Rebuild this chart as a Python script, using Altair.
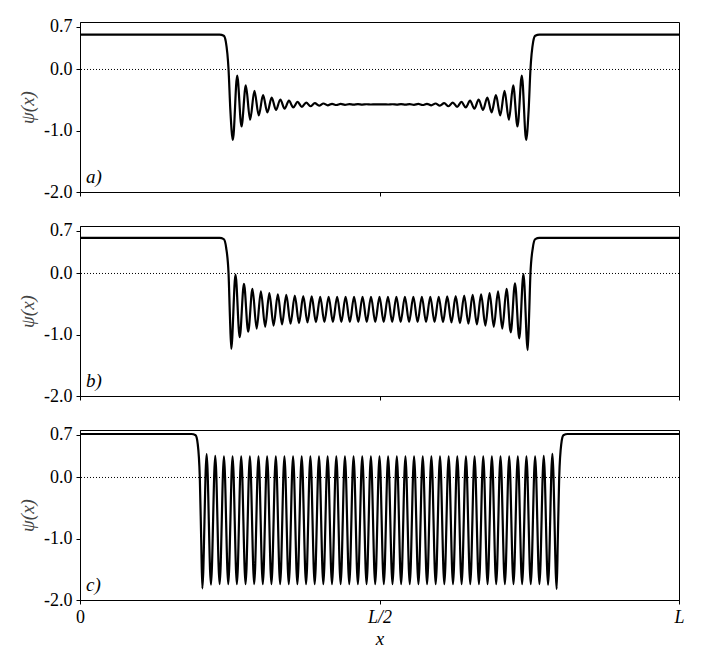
import altair as alt
import pandas as pd

# x is measured in thousandths of L (0 .. 1000)
tick_x = [0, 500, 1000]
tick_x_labels = ["0", "L/2", "L"]
tick_y = [-2.0, -1.0, 0.0, 0.7]
panel_labels = ["a)", "b)", "c)"]
zero_level = [0.0]

# ---------------- panel a ----------------
a_left_x = [0, 233, 240, 243.5, 248, 251]
a_left_y = [0.57, 0.57, 0.55, 0.45, 0.0, -0.66]
a_ext_x = [255.2, 262.4, 269.6, 276.8, 284.0, 291.2, 298.4, 305.6, 312.8, 320.0,
           327.2, 334.4, 341.6, 348.8, 356.0, 363.2, 370.4, 377.6, 384.8, 392.0,
           399.2, 406.4, 413.6, 420.8, 428.0, 435.2, 442.4, 449.6, 456.8, 464.0,
           471.2, 478.4, 485.6, 492.8, 500.0, 507.2, 514.4, 521.6, 528.8, 536.0,
           543.2, 550.4, 557.6, 564.8, 572.0, 579.2, 586.4, 593.6, 600.8, 608.0,
           615.2, 622.4, 629.6, 636.8, 644.0, 651.2, 658.4, 665.6, 672.8, 680.0,
           687.2, 694.4, 701.6, 708.8, 716.0, 723.2, 730.4, 737.6, 744.8]
a_ext_y = [-1.15, -0.10, -0.93, -0.26, -0.82, -0.35, -0.75, -0.42, -0.70, -0.46,
           -0.66, -0.49, -0.64, -0.51, -0.62, -0.53, -0.61, -0.54, -0.60, -0.55,
           -0.59, -0.555, -0.585, -0.56, -0.58, -0.563, -0.577, -0.565, -0.575, -0.567,
           -0.573, -0.568, -0.572, -0.569, -0.571,
           -0.569, -0.572, -0.568, -0.573, -0.567, -0.575, -0.565, -0.577, -0.563, -0.58,
           -0.56, -0.585, -0.555, -0.59, -0.55, -0.60, -0.54, -0.61, -0.53, -0.62,
           -0.51, -0.64, -0.49, -0.66, -0.46, -0.70, -0.42, -0.75, -0.35, -0.82,
           -0.26, -0.93, -0.10, -1.15]
a_right_x = [749, 752, 756.5, 760, 767, 1000]
a_right_y = [-0.66, 0.0, 0.45, 0.55, 0.57, 0.57]

# ---------------- panel b ----------------
b_left_x = [0, 233, 240, 244, 248, 250.3]
b_left_y = [0.58, 0.58, 0.56, 0.42, 0.0, -0.7]
b_ext_x = [252.5, 259.6, 266.6, 273.7, 280.8, 287.9, 294.9, 302.0, 309.1, 316.1,
           323.2, 330.3, 337.3, 344.4, 351.5, 358.6, 365.6, 372.7, 379.8, 386.8,
           393.9, 401.0, 408.0, 415.1, 422.2, 429.3, 436.3, 443.4, 450.5, 457.5,
           464.6, 471.7, 478.7, 485.8, 492.9, 500.0, 507.0, 514.1, 521.2, 528.2,
           535.3, 542.4, 549.4, 556.5, 563.6, 570.7, 577.7, 584.8, 591.9, 598.9,
           606.0, 613.1, 620.1, 627.2, 634.3, 641.4, 648.4, 655.5, 662.6, 669.6,
           676.7, 683.8, 690.8, 697.9, 705.0, 712.1, 719.1, 726.2, 733.3, 740.3,
           747.4]
b_ext_y = [-1.23, -0.02, -1.04, -0.17, -0.95, -0.25, -0.90, -0.29, -0.87, -0.32,
           -0.85, -0.34, -0.83, -0.35, -0.82, -0.36, -0.81, -0.37, -0.80, -0.375,
           -0.795, -0.38, -0.79, -0.38, -0.79, -0.38, -0.79, -0.38, -0.79, -0.38,
           -0.79, -0.38, -0.79, -0.38, -0.79, -0.38,
           -0.79, -0.38, -0.79, -0.38, -0.79, -0.38, -0.79, -0.38, -0.79, -0.38,
           -0.79, -0.38, -0.79, -0.38, -0.795, -0.375, -0.80, -0.37, -0.81, -0.36,
           -0.82, -0.35, -0.83, -0.34, -0.85, -0.32, -0.87, -0.29, -0.90, -0.25,
           -0.96, -0.16, -1.06, -0.01, -1.25]
b_right_x = [749.7, 752, 756, 760, 767, 1000]
b_right_y = [-0.7, 0.0, 0.42, 0.56, 0.58, 0.58]

# ---------------- panel c ----------------
c_left_x = [0, 186, 193, 196.5, 200, 202.3]
c_left_y = [0.71, 0.71, 0.69, 0.55, 0.0, -1.0]
c_ext_x = [204.2, 211.4, 218.6, 225.8, 233.1, 240.3, 247.5, 254.7, 261.9, 269.1,
           276.4, 283.6, 290.8, 298.0, 305.2, 312.4, 319.6, 326.9, 334.1, 341.3,
           348.5, 355.7, 362.9, 370.1, 377.4, 384.6, 391.8, 399.0, 406.2, 413.4,
           420.7, 427.9, 435.1, 442.3, 449.5, 456.7, 463.9, 471.2, 478.4, 485.6,
           492.8, 500.0, 507.2, 514.4, 521.7, 528.9, 536.1, 543.3, 550.5, 557.7,
           565.0, 572.2, 579.4, 586.6, 593.8, 601.0, 608.2, 615.5, 622.7, 629.9,
           637.1, 644.3, 651.5, 658.7, 666.0, 673.2, 680.4, 687.6, 694.8, 702.0,
           709.3, 716.5, 723.7, 730.9, 738.1, 745.3, 752.5, 759.8, 767.0, 774.2,
           781.4, 788.6, 795.8]
c_ext_y = [-1.81, 0.38, -1.75, 0.355, -1.74, 0.345, -1.74, 0.345, -1.74, 0.345,
           -1.74, 0.345, -1.74, 0.345, -1.74, 0.345, -1.74, 0.345, -1.74, 0.345,
           -1.74, 0.345, -1.74, 0.345, -1.74, 0.345, -1.74, 0.345, -1.74, 0.345,
           -1.74, 0.345, -1.74, 0.345, -1.74, 0.345, -1.74, 0.345, -1.74, 0.345,
           -1.74, 0.345, -1.74, 0.345, -1.74, 0.345, -1.74, 0.345, -1.74, 0.345,
           -1.74, 0.345, -1.74, 0.345, -1.74, 0.345, -1.74, 0.345, -1.74, 0.345,
           -1.74, 0.345, -1.74, 0.345, -1.74, 0.345, -1.74, 0.345, -1.74, 0.345,
           -1.74, 0.345, -1.74, 0.345, -1.74, 0.345, -1.74, 0.345, -1.74, 0.355,
           -1.75, 0.385, -1.82]
c_right_x = [797.7, 800, 803.5, 807, 814, 1000]
c_right_y = [-1.0, 0.0, 0.55, 0.69, 0.71, 0.71]

panels = [
    (a_left_x + a_ext_x + a_right_x, a_left_y + a_ext_y + a_right_y),
    (b_left_x + b_ext_x + b_right_x, b_left_y + b_ext_y + b_right_y),
    (c_left_x + c_ext_x + c_right_x, c_left_y + c_ext_y + c_right_y),
]

FONT = "Liberation Serif, Times New Roman, serif"
x_label_expr = " : ".join(
    f"datum.value == {v} ? '{t}'" for v, t in zip(tick_x[:-1], tick_x_labels[:-1])
) + f" : '{tick_x_labels[-1]}'"
y_label_expr = "datum.value < 0 ? '-' + format(-datum.value, '.1f') : format(datum.value, '.1f')"

x_scale = alt.Scale(domain=[0, 1000], nice=False, zero=False)
y_scale = alt.Scale(domain=[-2.0, 0.775], nice=False, zero=False)


def make_panel(i, xs, ys):
    last = i == 2
    df = pd.DataFrame({"x": xs, "y": ys})
    x_axis = alt.Axis(
        values=tick_x,
        labels=last,
        labelFlush=False,
        labelExpr=x_label_expr,
        labelFontStyle={"condition": {"test": "datum.value == 0", "value": "normal"}, "value": "italic"},
        title="x" if last else None,
        titleFontStyle="italic",
        titleFontWeight="normal",
        titlePadding=3,
        labelPadding=4,
    )
    y_axis = alt.Axis(
        values=tick_y,
        labelExpr=y_label_expr,
        title="ψ(x)",
        titleFontStyle="italic",
        titleFontWeight="normal",
        titleColor="#444444",
        titlePadding=6,
        labelPadding=4,
    )
    line = alt.Chart(df).mark_line(
        interpolate="monotone", color="black", strokeWidth=2.2
    ).encode(
        x=alt.X("x:Q", scale=x_scale, axis=x_axis),
        y=alt.Y("y:Q", scale=y_scale, axis=y_axis),
    )
    zero = alt.Chart(pd.DataFrame({"z": zero_level})).mark_rule(
        color="black", strokeWidth=1, strokeDash=[1, 2]
    ).encode(y=alt.Y("z:Q", scale=y_scale))
    label = alt.Chart(pd.DataFrame({"t": [panel_labels[i]]})).mark_text(
        font=FONT, fontSize=19, fontStyle="italic", align="left",
        baseline="alphabetic", color="black"
    ).encode(text="t:N", x=alt.value(6), y=alt.value(161))
    return alt.layer(zero, line, label).properties(width=599, height=170)


chart = alt.vconcat(
    *[make_panel(i, xs, ys) for i, (xs, ys) in enumerate(panels)], spacing=19
).properties(
    padding={"left": 10, "top": 9, "right": 10, "bottom": 5}
).configure_axis(
    grid=False,
    domainColor="black",
    domainWidth=1,
    tickColor="black",
    tickSize=4,
    labelColor="black",
    labelFont=FONT,
    labelFontSize=18,
    titleFont=FONT,
    titleFontSize=19,
    titleColor="black",
).configure_view(
    stroke="black", strokeWidth=1
)

chart.save("out.html", embed_options={"renderer": "svg", "actions": False})
